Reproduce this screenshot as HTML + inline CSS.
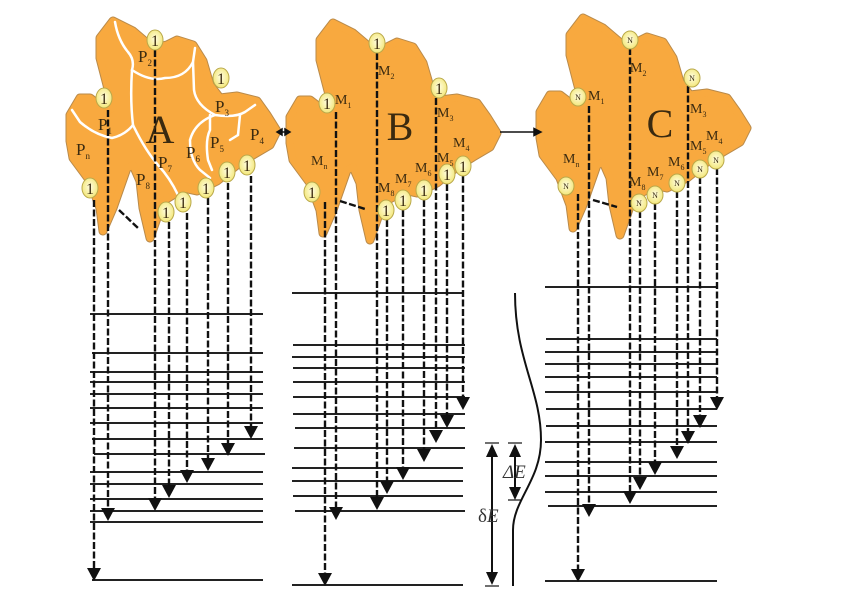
<!DOCTYPE html>
<html><head><meta charset="utf-8"><style>
html,body{margin:0;padding:0;background:#fff;}
svg{display:block;}
text{font-family:"Liberation Serif",serif;fill:#3a2a10;}
</style></head><body>
<svg width="856" height="602" viewBox="0 0 856 602" xmlns="http://www.w3.org/2000/svg">
<defs>
<path id="blob" d="M320,40 L333,23 L353,33 L373,50 L387,47 L397,42 L413,47 L423,63 L430,87 L440,100 L457,98 L477,103 L487,117 L497,133 L490,147 L473,157 L457,167 L437,183 L417,193 L403,190 L393,197 L383,203 L370,240 L363,210 L360,183 L353,167 L347,170 L340,190 L333,210 L323,233 L320,210 L310,183 L293,160 L290,143 L290,117 L300,100 L310,100 L327,113 L333,110 L327,87 L320,60 Z"/>
<g id="blobF">
<use href="#blob" fill="#b98a4a" stroke="#b98a4a" stroke-width="9" stroke-linejoin="round"/>
<use href="#blob" fill="#f8a93f" stroke="#f8a93f" stroke-width="7" stroke-linejoin="round"/>
</g>
<radialGradient id="cg" cx="50%" cy="45%" r="55%"><stop offset="0" stop-color="#fffde0"/><stop offset="1" stop-color="#f3e77a"/></radialGradient>
</defs>

<use href="#blobF" transform="translate(-220,-2)"/>
<use href="#blobF"/>
<use href="#blobF" transform="translate(250,-5)"/>

<g fill="none" stroke="#fff" stroke-width="2.5" stroke-linecap="round">
<path d="M115,22 Q118,40 128,52 Q135,60 132,70 Q150,82 165,78 Q185,78 193,62 L195,48"/>
<path d="M132,70 Q130,100 133,125 Q125,135 112,138 Q95,135 80,122 L72,110"/>
<path d="M133,125 Q145,150 158,165 Q170,178 178,195"/>
<path d="M193,62 L194,90 Q196,105 215,115 Q235,118 245,112 L255,105"/>
<path d="M215,115 Q195,122 190,140 Q190,160 200,170 L210,178"/>
<path d="M210,115 L210,130 Q205,140 208,160 L212,170"/>
<path d="M240,115 L238,135 L230,140"/>
</g>

<g stroke="#111" stroke-width="1.5" fill="#111">
<line x1="278" y1="132" x2="289" y2="132"/>
<path d="M277,132 l5,-3 v6z"/><path d="M290,132 l-5,-3 v6z"/>
<line x1="500" y1="132" x2="535" y2="132"/>
<path d="M541,132 l-7,-3.5 v7z"/>
</g>

<g stroke="#222" stroke-width="2">
<path d="M90,314H263M92,353H263M90,372H263M90,382H263M90,394H263M90,408H263M90,423H263M92,439H263M94,454H265M90,472H263M90,484H263M90,499H263M90,511H263M90,522H263M92,580H263"/>
<path d="M292,293H463M293,345H465M292,357H465M293,368H465M293,382H465M293,397H465M293,414H465M295,428H465M294,448H465M292,468H463M292,481H463M293,496H463M295,511H465M292,585H463"/>
<path d="M545,287H717M546,339H717M545,352H717M545,364H717M545,377H717M545,392H717M546,409H717M546,426H717M545,442H717M545,462H717M545,476H717M545,492H717M548,506H717M545,581H717"/>
</g>

<g stroke="#111" stroke-width="2.4" stroke-dasharray="7,2.5" fill="none">
<line x1="94" y1="200" x2="94" y2="570"/>
<line x1="108" y1="110" x2="108" y2="508"/>
<line x1="155" y1="50" x2="155" y2="498"/>
<line x1="169" y1="222" x2="169" y2="485"/>
<line x1="187" y1="213" x2="187" y2="470"/>
<line x1="208" y1="198" x2="208" y2="458"/>
<line x1="228" y1="183" x2="228" y2="443"/>
<line x1="251" y1="176" x2="251" y2="426"/>
<line x1="119" y1="210" x2="138" y2="228"/>

<line x1="325" y1="202" x2="325" y2="573"/>
<line x1="336" y1="112" x2="336" y2="508"/>
<line x1="377" y1="53" x2="377" y2="498"/>
<line x1="387" y1="220" x2="387" y2="481"/>
<line x1="403" y1="210" x2="403" y2="468"/>
<line x1="424" y1="200" x2="424" y2="450"/>
<line x1="436" y1="98" x2="436" y2="431"/>
<line x1="447" y1="184" x2="447" y2="416"/>
<line x1="463" y1="176" x2="463" y2="398"/>
<line x1="340" y1="201" x2="365" y2="209"/>

<line x1="578" y1="194" x2="578" y2="569"/>
<line x1="589" y1="106" x2="589" y2="504"/>
<line x1="630" y1="48" x2="630" y2="491"/>
<line x1="640" y1="211" x2="640" y2="477"/>
<line x1="655" y1="203" x2="655" y2="462"/>
<line x1="677" y1="191" x2="677" y2="446"/>
<line x1="688" y1="86" x2="688" y2="431"/>
<line x1="700" y1="177" x2="700" y2="415"/>
<line x1="717" y1="168" x2="717" y2="397"/>
<line x1="593" y1="200" x2="617" y2="207"/>
</g>

<g fill="#111">
<path d="M87,568h14l-7,13z"/><path d="M101,508h14l-7,13z"/><path d="M148,498h14l-7,13z"/><path d="M162,485h14l-7,13z"/>
<path d="M180,470h14l-7,13z"/><path d="M201,458h14l-7,13z"/><path d="M221,443h14l-7,13z"/><path d="M244,426h14l-7,13z"/>
<path d="M318,573h14l-7,13z"/><path d="M329,507h14l-7,13z"/><path d="M370,497h14l-7,13z"/><path d="M380,481h14l-7,13z"/>
<path d="M396,467h14l-7,13z"/><path d="M417,449h14l-7,13z"/><path d="M429,430h14l-7,13z"/><path d="M440,415h14l-7,13z"/><path d="M456,397h14l-7,13z"/>
<path d="M571,569h14l-7,13z"/><path d="M582,504h14l-7,13z"/><path d="M623,491h14l-7,13z"/><path d="M633,477h14l-7,13z"/>
<path d="M648,462h14l-7,13z"/><path d="M670,446h14l-7,13z"/><path d="M681,431h14l-7,13z"/><path d="M693,415h14l-7,13z"/><path d="M710,397h14l-7,13z"/>
</g>

<g stroke="#111" stroke-width="2" fill="none">
<path d="M515,293 C515,360 541,390 541,440 C541,480 513,500 513,530 L513,586"/>
<line x1="492" y1="452" x2="492" y2="578"/>
<line x1="485" y1="443" x2="499" y2="443" stroke-width="1.2"/>
<line x1="485" y1="586" x2="499" y2="586" stroke-width="1.2"/>
<line x1="515" y1="452" x2="515" y2="492"/>
<line x1="508" y1="443" x2="522" y2="443" stroke-width="1.2"/>
<line x1="508" y1="500" x2="522" y2="500" stroke-width="1.2"/>
</g>
<g fill="#111">
<path d="M486,457h12l-6,-13z"/><path d="M486,572h12l-6,13z"/>
<path d="M509,457h12l-6,-13z"/><path d="M509,487h12l-6,13z"/>
</g>
<text x="503" y="478" font-size="19" style="fill:#333" font-style="italic">ΔE</text>
<text x="478" y="522" font-size="19" style="fill:#333">δ<tspan font-style="italic">E</tspan></text>

<g stroke="#b9a84a" stroke-width="1" fill="url(#cg)">
<ellipse cx="155" cy="40" rx="8" ry="10"/><ellipse cx="221" cy="78" rx="8" ry="10"/><ellipse cx="104" cy="98" rx="8" ry="10"/>
<ellipse cx="90" cy="188" rx="8" ry="10"/><ellipse cx="166" cy="212" rx="8" ry="10"/><ellipse cx="183" cy="202" rx="8" ry="10"/>
<ellipse cx="206" cy="188" rx="8" ry="10"/><ellipse cx="227" cy="172" rx="8" ry="10"/><ellipse cx="247" cy="165" rx="8" ry="10"/>
<ellipse cx="377" cy="43" rx="8" ry="10"/><ellipse cx="439" cy="88" rx="8" ry="10"/><ellipse cx="327" cy="103" rx="8" ry="10"/>
<ellipse cx="312" cy="192" rx="8" ry="10"/><ellipse cx="386" cy="210" rx="8" ry="10"/><ellipse cx="403" cy="200" rx="8" ry="10"/>
<ellipse cx="424" cy="190" rx="8" ry="10"/><ellipse cx="447" cy="174" rx="8" ry="10"/><ellipse cx="463" cy="166" rx="8" ry="10"/>
<ellipse cx="630" cy="40" rx="8" ry="9"/><ellipse cx="692" cy="78" rx="8" ry="9"/><ellipse cx="578" cy="97" rx="8" ry="9"/>
<ellipse cx="566" cy="186" rx="8" ry="9"/><ellipse cx="639" cy="203" rx="8" ry="9"/><ellipse cx="655" cy="195" rx="8" ry="9"/>
<ellipse cx="677" cy="183" rx="8" ry="9"/><ellipse cx="700" cy="169" rx="8" ry="9"/><ellipse cx="716" cy="160" rx="8" ry="9"/>
</g>
<g font-size="16" text-anchor="middle" style="fill:#222">
<text x="155" y="46">1</text><text x="221" y="84">1</text><text x="104" y="104">1</text><text x="90" y="194">1</text>
<text x="166" y="218">1</text><text x="183" y="208">1</text><text x="206" y="194">1</text><text x="227" y="178">1</text><text x="247" y="171">1</text>
<text x="377" y="49">1</text><text x="439" y="94">1</text><text x="327" y="109">1</text><text x="312" y="198">1</text>
<text x="386" y="216">1</text><text x="403" y="206">1</text><text x="424" y="196">1</text><text x="447" y="180">1</text><text x="463" y="172">1</text>
</g>
<g font-size="8" text-anchor="middle" style="fill:#222">
<text x="630" y="43">N</text><text x="692" y="81">N</text><text x="578" y="100">N</text><text x="566" y="189">N</text>
<text x="639" y="206">N</text><text x="655" y="198">N</text><text x="677" y="186">N</text><text x="700" y="172">N</text><text x="716" y="163">N</text>
</g>

<g font-size="40" text-anchor="middle" style="fill:#111">
<text x="160" y="143">A</text><text x="400" y="140">B</text><text x="660" y="137">C</text>
</g>

<g font-size="17">
<text x="98" y="130">P<tspan font-size="9" dy="4">1</tspan></text>
<text x="138" y="62">P<tspan font-size="9" dy="4">2</tspan></text>
<text x="215" y="112">P<tspan font-size="9" dy="4">3</tspan></text>
<text x="250" y="140">P<tspan font-size="9" dy="4">4</tspan></text>
<text x="210" y="148">P<tspan font-size="9" dy="4">5</tspan></text>
<text x="186" y="158">P<tspan font-size="9" dy="4">6</tspan></text>
<text x="158" y="168">P<tspan font-size="9" dy="4">7</tspan></text>
<text x="136" y="185">P<tspan font-size="9" dy="4">8</tspan></text>
<text x="76" y="155">P<tspan font-size="9" dy="4">n</tspan></text>
</g>
<g font-size="14">
<text x="335" y="104">M<tspan font-size="8" dy="4">1</tspan></text>
<text x="378" y="75">M<tspan font-size="8" dy="4">2</tspan></text>
<text x="437" y="117">M<tspan font-size="8" dy="4">3</tspan></text>
<text x="453" y="147">M<tspan font-size="8" dy="4">4</tspan></text>
<text x="437" y="162">M<tspan font-size="8" dy="4">5</tspan></text>
<text x="415" y="172">M<tspan font-size="8" dy="4">6</tspan></text>
<text x="395" y="183">M<tspan font-size="8" dy="4">7</tspan></text>
<text x="378" y="192">M<tspan font-size="8" dy="4">8</tspan></text>
<text x="311" y="165">M<tspan font-size="8" dy="4">n</tspan></text>

<text x="588" y="100">M<tspan font-size="8" dy="4">1</tspan></text>
<text x="630" y="72">M<tspan font-size="8" dy="4">2</tspan></text>
<text x="690" y="113">M<tspan font-size="8" dy="4">3</tspan></text>
<text x="706" y="140">M<tspan font-size="8" dy="4">4</tspan></text>
<text x="690" y="150">M<tspan font-size="8" dy="4">5</tspan></text>
<text x="668" y="166">M<tspan font-size="8" dy="4">6</tspan></text>
<text x="647" y="176">M<tspan font-size="8" dy="4">7</tspan></text>
<text x="629" y="186">M<tspan font-size="8" dy="4">8</tspan></text>
<text x="563" y="163">M<tspan font-size="8" dy="4">n</tspan></text>
</g>
</svg>
</body></html>
